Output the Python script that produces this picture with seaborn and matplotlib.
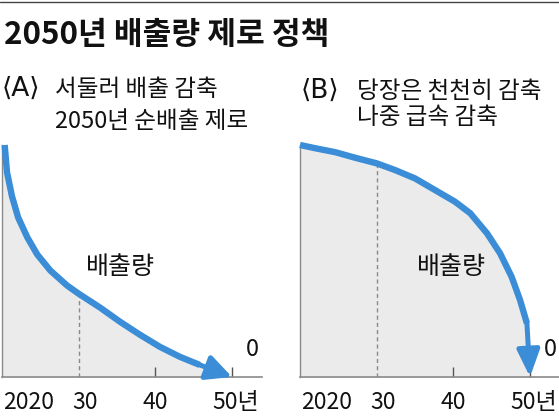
import matplotlib
matplotlib.use("Agg")
import matplotlib.pyplot as plt
from matplotlib.lines import Line2D
import seaborn as sns

# ---- data ----
years_a = [2020.35, 2020.65, 2021.3, 2022.1, 2023.3, 2024.6, 2026.3, 2028.5, 2030,
           2032.8, 2035.4, 2038.0, 2040.6, 2043.2, 2045.8, 2050]
vals_a = [100, 88.3, 77.9, 68.8, 60.2, 52.8, 45.9, 39.4, 35.9,
          29.9, 23.8, 18.2, 13.0, 8.7, 5.2, 0]
years_b = [2020, 2022.0, 2024.6, 2027.2, 2030, 2032.4, 2035.0, 2037.6, 2040.2,
           2042.2, 2044.4, 2046.1, 2047.6, 2048.7, 2049.6, 2050]
vals_b = [100, 98.6, 96.9, 94.5, 92.1, 89.2, 85.6, 80.6, 75.6,
          70.6, 61.9, 53.3, 43.2, 33.2, 23.1, 0]
tick_years = [2020, 2030, 2040, 2050]
tick_labels = ["2020", "30", "40", "50년"]
title = "2050년 배출량 제로 정책"
sub_a = ["⟨A⟩", "서둘러 배출 감축", "2050년 순배출 제로"]
sub_b = ["⟨B⟩", "당장은 천천히 감축", "나중 급속 감축"]
area_label = "배출량"
zero_label = "0"

sns.set_theme(style="white")
KR = ["Noto Sans CJK KR", "DejaVu Sans"]
BR = ["DejaVu Sans", "Noto Sans CJK KR"]
plt.rcParams["font.family"] = KR

W, H = 559, 416
BLUE = "#3a8dd6"
FILL = "#ebebeb"
GRAY = "#8a8a8a"
INK = "#111111"

fig = plt.figure(figsize=(W / 100, H / 100), dpi=100)
fig.patch.set_facecolor("white")

def px(x):
    return x / W

def py(y):
    return 1 - y / H

fig.add_artist(Line2D([0, 1], [py(1.5), py(1.5)], color="#444444", lw=1))
fig.text(px(4), py(35), title, fontsize=22.5, fontweight="bold", va="center", ha="left",
         family=KR, color=INK)

PXY = 230 / 30.0  # pixels per year
ax_h = 232

def panel(left_px, width_px, years, vals, sub, sub_x, sub_ys, label_xy, arrow_style):
    ax = fig.add_axes([px(left_px), (H - 377) / H, width_px / W, ax_h / H])
    ax.set_xlim(2020, 2020 + width_px / PXY)
    ax.set_ylim(0, 100)
    ax.set_facecolor("none")
    ax.fill_between([2020] + years, [vals[0]] + vals, 0, color=FILL, lw=0, zorder=0)
    i30 = years.index(2030)
    ax.vlines(2030, 0, vals[i30], colors=GRAY, linestyles=(0, (3, 2.2)), lw=1, zorder=1)
    sns.lineplot(x=years[:-1], y=vals[:-1], ax=ax, color=BLUE, lw=4.6, sort=False,
                 solid_capstyle="butt", solid_joinstyle="round", clip_on=False,
                 zorder=3, legend=False)
    ax.annotate("", xy=(years[-1], vals[-1]), xytext=(years[-2], vals[-2]),
                arrowprops=dict(arrowstyle=arrow_style, color=BLUE, lw=3.6,
                                mutation_scale=18, shrinkA=0, shrinkB=0),
                annotation_clip=False, zorder=4)
    for s in ["top", "right"]:
        ax.spines[s].set_visible(False)
    ax.spines["left"].set_color(GRAY)
    ax.spines["left"].set_linewidth(1)
    ax.spines["bottom"].set_color(GRAY)
    ax.spines["bottom"].set_linewidth(1.2)
    ax.set_yticks([])
    ax.set_xticks(tick_years[2:])
    ax.set_xticklabels([])
    ax.tick_params(axis="x", direction="in", length=7, width=1, color="#555555", bottom=True)
    ax.grid(False)
    tr = ax.get_xaxis_transform()
    offs = [(0.1, "left"), (0.8, "center"), (0, "center"), (-2.6, "left")]
    for yv, lab, (dx, ha) in zip(tick_years, tick_labels, offs):
        ax.text(yv + dx, -32 / ax_h, lab, transform=tr, ha=ha, va="baseline",
                fontsize=16.5, family=KR, color=INK)
    ax.text(2052.7, 12, zero_label, ha="center", va="center", fontsize=17, family=KR, color=INK)
    ax.text(label_xy[0], label_xy[1], area_label, ha="center", va="center", fontsize=18,
            family=KR, color=INK)
    fig.text(px(sub_x[0]), py(sub_ys[0]), sub[0], fontsize=19, va="center", ha="left",
             family=BR, color=INK)
    fig.text(px(sub_x[1]), py(sub_ys[0]), sub[1], fontsize=17, va="center", ha="left",
             family=KR, color=INK)
    fig.text(px(sub_x[1]), py(sub_ys[1]), sub[2], fontsize=17, va="center", ha="left",
             family=KR, color=INK)
    return ax

panel(2, 260, years_a, vals_a, sub_a, (2, 55), (89, 121), (2035.4, 47.6),
      "-|>,head_length=0.85,head_width=0.42")
panel(300, 259, years_b, vals_b, sub_b, (301, 357), (91, 118), (2039.7, 47.6),
      "-|>,head_length=0.9,head_width=0.38")

fig.savefig("out.png", dpi=100)
